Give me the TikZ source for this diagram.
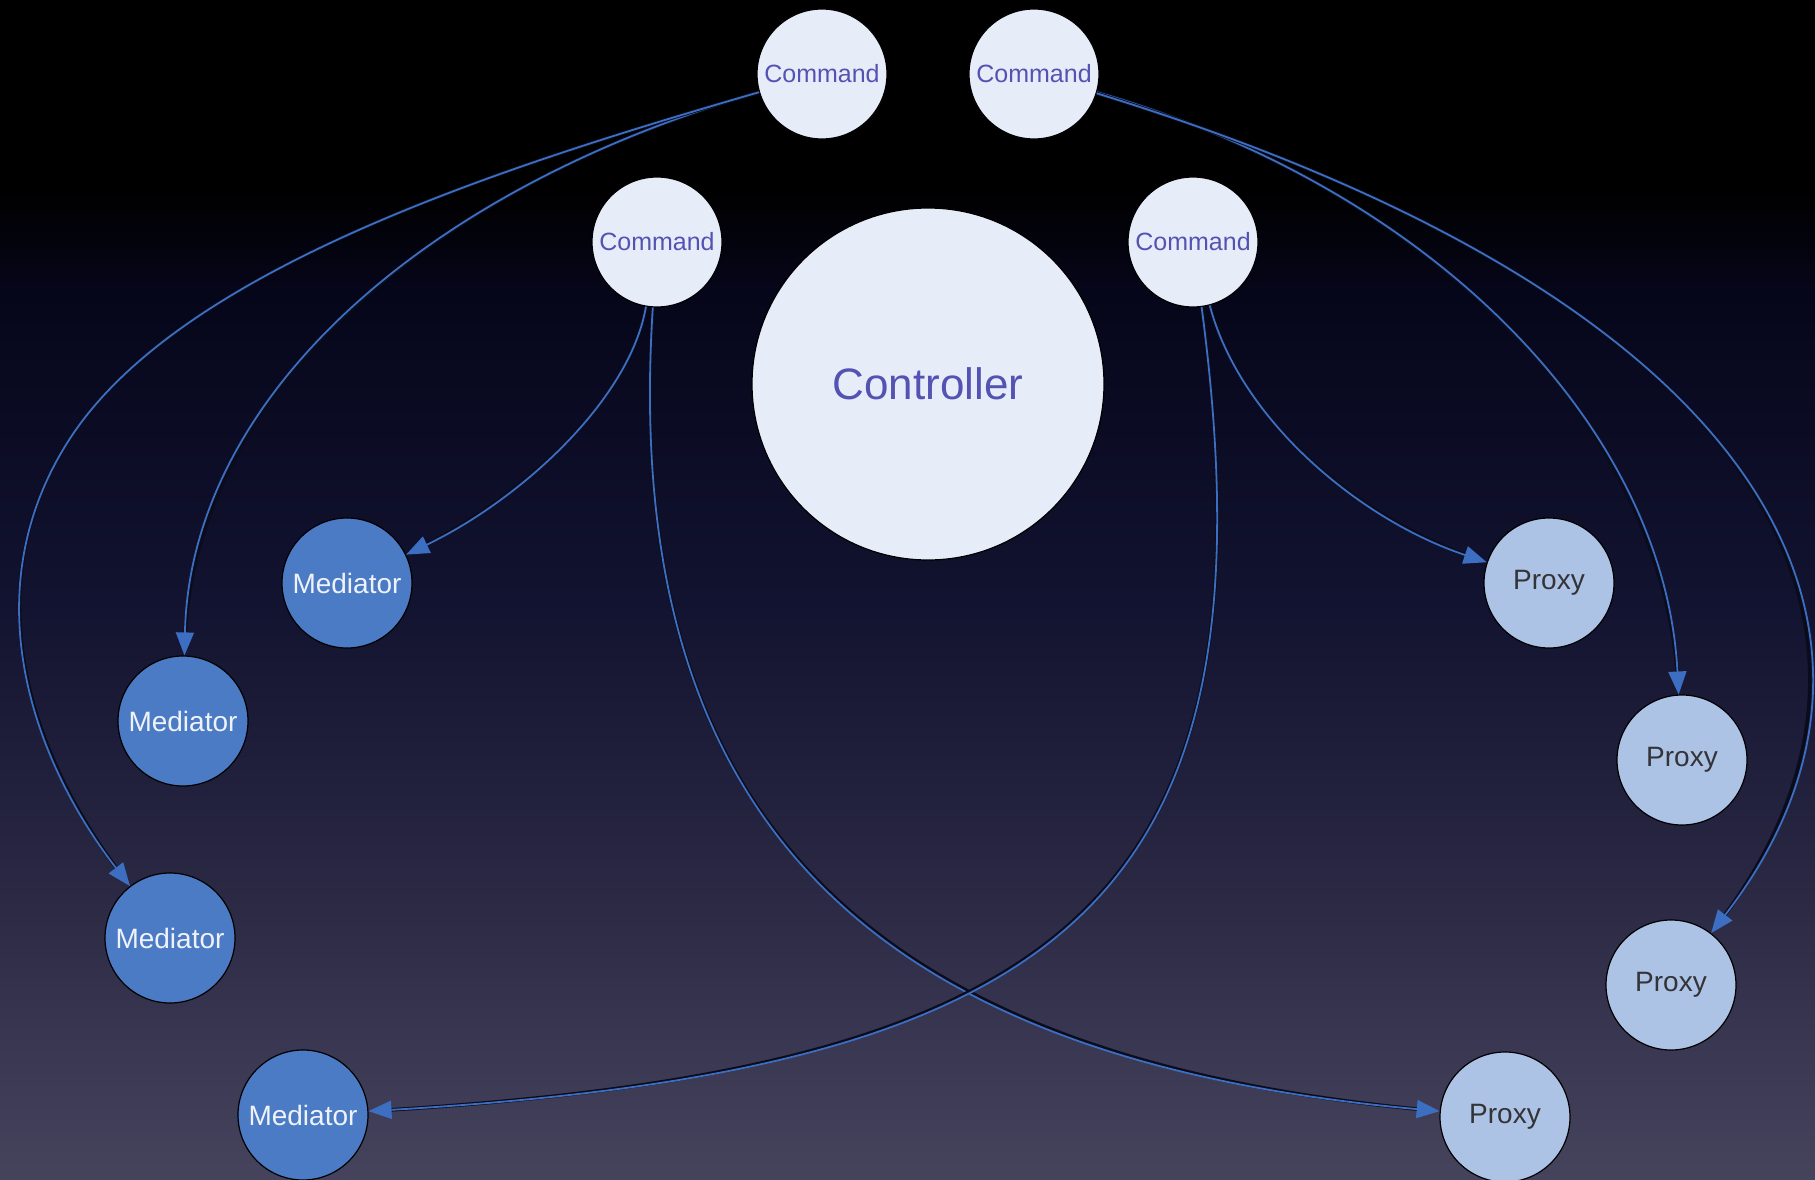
\documentclass[tikz,border=0pt]{standalone}
\usepackage{fontspec}
\setmainfont{Liberation Sans}
\usetikzlibrary{arrows.meta}

% palette
\definecolor{bgA}{HTML}{46445D}
\definecolor{bgB}{HTML}{2B2944}
\definecolor{bgC}{HTML}{121330}
\definecolor{bgD}{HTML}{0A0A22}
\definecolor{bgE}{HTML}{06061A}
\definecolor{cmdfill}{HTML}{E7EDF8}
\definecolor{cmdtext}{HTML}{5452B2}
\definecolor{medfill}{HTML}{4A7BC4}
\definecolor{medtext}{HTML}{F0F2FA}
\definecolor{proxfill}{HTML}{ADC3E6}
\definecolor{proxtext}{HTML}{333338}
\definecolor{linkblue}{HTML}{3C6EC2}
\definecolor{linkedge}{HTML}{0A0C1C}

% backdrop: black at the top, fading to slate at the bottom
\pgfdeclareverticalshading{backdrop}{100bp}{%
  color(0bp)=(bgA); color(25bp)=(bgA); color(36.9bp)=(bgB);
  color(49.6bp)=(bgC); color(58bp)=(bgD); color(62.7bp)=(bgE);
  color(67bp)=(black); color(100bp)=(black)}

\tikzset{
  orb/.style={circle, draw=black, line width=1.2pt, inner sep=0pt},
  cmd/.style={orb, fill=cmdfill, text=cmdtext, minimum size=130pt,
              font=\fontsize{25}{30}\selectfont},
  ctrl/.style={orb, fill=cmdfill, text=cmdtext, minimum size=352pt,
               font=\fontsize{44}{52}\selectfont},
  med/.style={orb, fill=medfill, text=medtext, minimum size=130pt,
              font=\fontsize{28}{34}\selectfont},
  prox/.style={orb, fill=proxfill, text=proxtext, minimum size=130pt,
               font=\fontsize{28}{34}\selectfont},
  link/.style={draw=linkblue, line width=1.8pt,
               -{Triangle[length=23pt,width=18pt]},
               preaction={draw=linkedge, line width=3.6pt, -, shorten >=8pt}},
}

\begin{document}
\begin{tikzpicture}[x=1pt,y=-1pt]
\shade[shading=backdrop] (0,0) rectangle (1815,1180);
\useasboundingbox (0,0) rectangle (1815,1180);

% commands and controller
\node[cmd]  (c1) at (822,74)  {Command};
\node[cmd]  (c2) at (1034,74) {Command};
\node[cmd]  (c3) at (657,242) {Command};
\node[cmd]  (c4) at (1193,242) {Command};
\node[ctrl] (ctl) at (928,384) {Controller};

% mediators
\node[med] (m1) at (347,583)  {Mediator};
\node[med] (m2) at (183,721)  {Mediator};
\node[med] (m3) at (170,938)  {Mediator};
\node[med] (m4) at (303,1115) {Mediator};

% proxies
\node[prox] (p1) at (1549,583)  {Proxy};
\node[prox] (p2) at (1682,760)  {Proxy};
\node[prox] (p3) at (1671,985)  {Proxy};
\node[prox] (p4) at (1505,1117) {Proxy};

% bend point of the outer left link
\coordinate (bendL) at (69,440);

% command links
\draw[link] (c1) .. controls (420,190) and (190,400) .. (m2);
\draw[link] (c1) .. controls (490,170) and (177,272) .. (bendL)
                 .. controls (-28,591) and (32,759) .. (m3);
\draw[link] (c2) .. controls (1436,190) and (1665,430) .. (p2);
\draw[link] (c2) .. controls (1800,310) and (1930,650) .. (p3);
\draw[link] (c3) .. controls (630,400) and (520,500) .. (m1);
\draw[link] (c3) .. controls (620,820) and (870,1060) .. (p4);
\draw[link] (c4) .. controls (1240,420) and (1360,520) .. (p1);
\draw[link] (c4) .. controls (1280,900) and (1070,1070) .. (m4);
\end{tikzpicture}
\end{document}
